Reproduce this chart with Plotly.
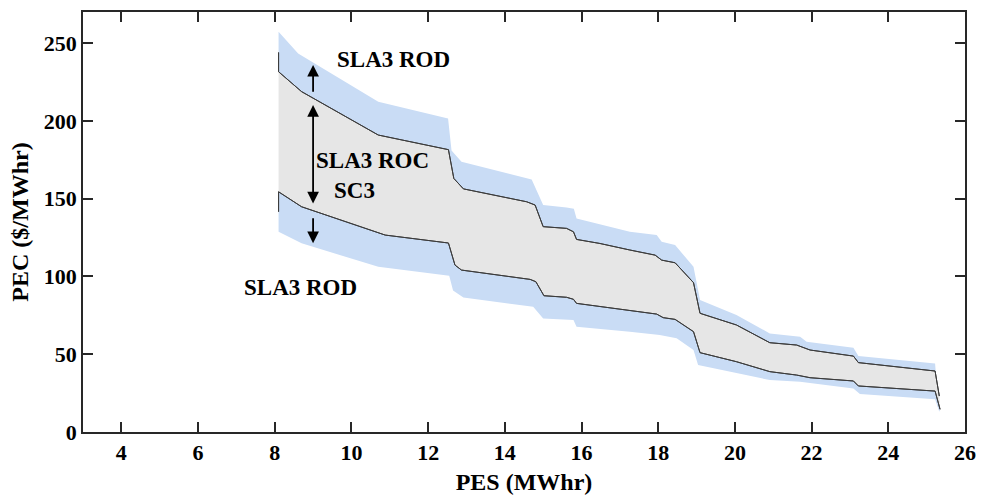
import plotly.graph_objects as go

# Upper ROC / SC3 boundary (dark line)
upper_x = [8.10, 8.10, 8.70, 10.70, 12.53, 12.67, 12.92, 14.57, 14.79, 15.00, 15.61, 15.79, 15.87,
           16.48, 17.26, 17.92, 18.09, 18.44, 18.92, 19.09, 20.04, 20.91, 21.61, 21.96, 23.09, 23.22,
           25.22, 25.33]
upper_y = [244.0, 231.6, 218.8, 190.9, 181.5, 163.0, 156.3, 148.0, 145.9, 132.0, 130.9, 128.7, 123.8,
           121.2, 117.0, 113.7, 110.5, 108.8, 96.0, 76.3, 68.8, 57.4, 55.9, 52.7, 48.8, 44.6,
           39.2, 23.1]

# Lower ROC / SC3 boundary (dark line)
lower_x = [8.10, 8.10, 8.70, 10.88, 12.53, 12.70, 12.87, 14.66, 14.81, 15.02, 15.61, 15.79, 15.87,
           17.26, 17.96, 18.13, 18.44, 18.92, 19.09, 20.04, 20.91, 21.61, 21.96, 23.09, 23.22,
           25.22, 25.35]
lower_y = [141.6, 154.4, 144.8, 126.6, 121.5, 107.3, 104.1, 98.1, 96.6, 87.6, 86.6, 85.3, 82.7,
           78.4, 75.8, 73.5, 72.4, 64.5, 51.0, 45.2, 38.8, 36.6, 34.9, 32.8, 29.6,
           26.3, 14.6]

# Upper ROD band edge
rod_top_x = [8.10, 8.61, 10.70, 12.52, 12.61, 12.87, 14.70, 15.00, 15.61, 15.80, 15.87, 17.26,
             17.96, 18.09, 18.44, 18.92, 19.09, 20.04, 20.91, 21.70, 21.87, 23.09, 23.22, 25.22, 25.27]
rod_top_y = [257.3, 243.4, 212.3, 201.6, 181.0, 173.7, 162.4, 145.9, 144.3, 143.5, 137.3, 128.7,
             126.6, 122.3, 120.2, 106.2, 84.8, 75.2, 63.4, 61.2, 58.0, 54.2, 48.8, 44.1, 28.0]

# Lower ROD band edge
rod_bot_x = [8.10, 8.70, 10.70, 12.55, 12.65, 12.92, 14.74, 15.00, 15.79, 15.87, 17.26, 18.04,
             18.48, 18.92, 19.04, 20.04, 20.91, 21.70, 23.09, 23.26, 25.22, 25.33]
rod_bot_y = [128.7, 121.3, 106.2, 100.5, 91.0, 86.5, 80.5, 73.0, 72.0, 67.7, 64.5, 62.3,
             60.2, 52.7, 43.0, 37.7, 33.4, 32.3, 28.0, 24.4, 21.0, 13.0]

x_ticks = [4, 6, 8, 10, 12, 14, 16, 18, 20, 22, 24, 26]
y_ticks = [0, 50, 100, 150, 200, 250]

BLUE = "rgb(201,220,245)"
GRAY = "rgb(230,230,230)"
LINE = "rgb(60,60,60)"
FONT = "Liberation Serif"

fig = go.Figure()
fig.add_trace(go.Scatter(x=rod_top_x, y=rod_top_y, mode="lines", line=dict(width=0),
                         hoverinfo="skip", showlegend=False))
fig.add_trace(go.Scatter(x=upper_x, y=upper_y, mode="lines", fill="tonexty", fillcolor=BLUE,
                         line=dict(color=LINE, width=1), showlegend=False))
fig.add_trace(go.Scatter(x=lower_x, y=lower_y, mode="lines", fill="tonexty", fillcolor=GRAY,
                         line=dict(color=LINE, width=1), showlegend=False))
fig.add_trace(go.Scatter(x=rod_bot_x, y=rod_bot_y, mode="lines", fill="tonexty", fillcolor=BLUE,
                         line=dict(width=0), showlegend=False))
# redraw dark lines on top
fig.add_trace(go.Scatter(x=upper_x, y=upper_y, mode="lines",
                         line=dict(color=LINE, width=1), showlegend=False))
fig.add_trace(go.Scatter(x=lower_x, y=lower_y, mode="lines",
                         line=dict(color=LINE, width=1), showlegend=False))

txtfont = dict(family=FONT, size=23, color="black", weight="bold")
labels = [("SLA3 ROD", 11.10, 239.6), ("SLA3 ROC", 10.56, 174.3), ("SC3", 10.09, 155.0),
          ("SLA3 ROD", 8.68, 92.7)]
for t, x, y in labels:
    fig.add_annotation(x=x, y=y, text=t, showarrow=False, font=txtfont)

arrows = [(9.0, 236.0, 9.0, 217.7, "end"), (9.0, 210.2, 9.0, 145.9, "end+start"),
          (9.0, 121.3, 9.0, 138.4, "end")]
for x, y, ax, ay, side in arrows:
    fig.add_annotation(x=x, y=y, ax=ax, ay=ay, axref="x", ayref="y", text="",
                       showarrow=True, arrowhead=2, arrowsize=1.3, arrowwidth=1.8,
                       arrowcolor="black", arrowside=side)

axis_common = dict(showline=True, linecolor="rgb(40,40,40)", linewidth=1.5, mirror="ticks",
                   ticks="inside", ticklen=10, tickwidth=1.5, tickcolor="rgb(40,40,40)",
                   showgrid=False, zeroline=False, automargin=False,
                   tickfont=dict(family=FONT, size=22, color="black", weight="bold"))

fig.update_xaxes(range=[3, 26], tickvals=x_ticks,
                 title=dict(text="PES (MWhr)", standoff=14,
                            font=dict(family=FONT, size=24, color="black", weight="bold")),
                 **axis_common)
fig.update_yaxes(range=[0, 270], tickvals=y_ticks,
                 title=dict(text="PEC ($/MWhr)", standoff=8,
                            font=dict(family=FONT, size=24, color="black", weight="bold")),
                 **axis_common)

fig.update_layout(width=992, height=495, margin=dict(l=83, r=27, t=12, b=63),
                  plot_bgcolor="white", paper_bgcolor="white")

fig.write_html("out.html")
